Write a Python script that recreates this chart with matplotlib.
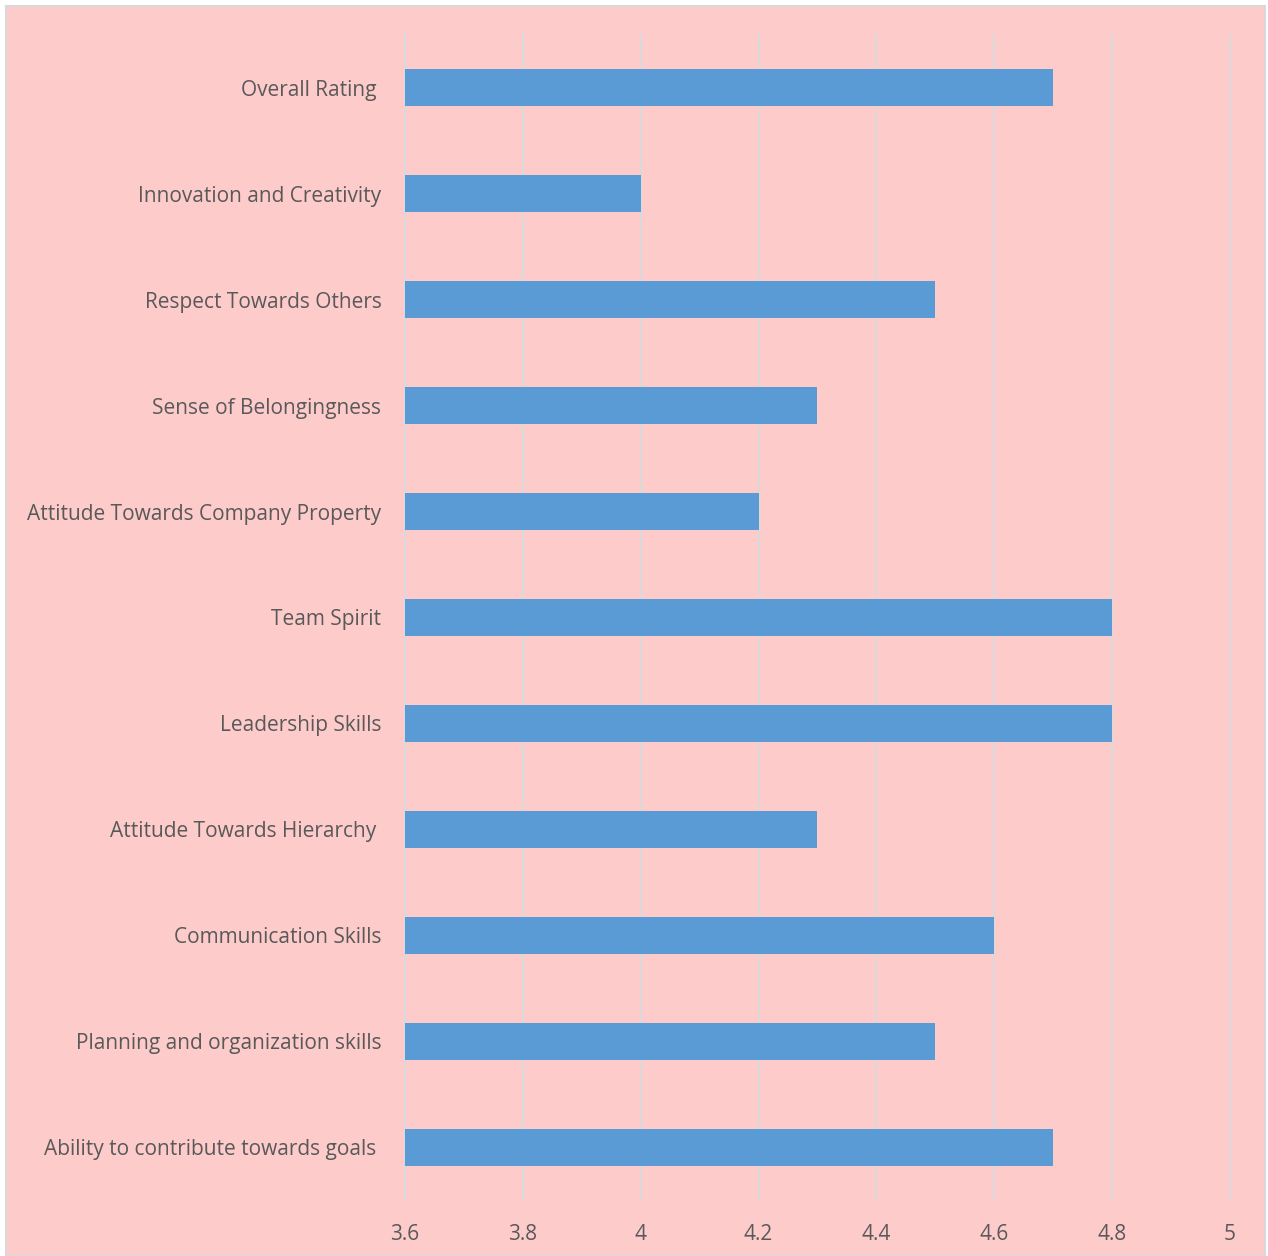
import matplotlib.pyplot as plt
from matplotlib.patches import Rectangle

# categories listed bottom to top
categories = [
    "Ability to contribute towards goals ",
    "Planning and organization skills",
    "Communication Skills",
    "Attitude Towards Hierarchy ",
    "Leadership Skills",
    "Team Spirit",
    "Attitude Towards Company Property",
    "Sense of Belongingness",
    "Respect Towards Others",
    "Innovation and Creativity",
    "Overall Rating ",
]
scores = [4.7, 4.5, 4.6, 4.3, 4.8, 4.8, 4.2, 4.3, 4.5, 4.0, 4.7]
xticks = [3.6, 3.8, 4.0, 4.2, 4.4, 4.6, 4.8, 5.0]
xticklabels = ["3.6", "3.8", "4", "4.2", "4.4", "4.6", "4.8", "5"]

plt.rcParams["font.family"] = ["Open Sans", "DejaVu Sans"]
pink = "#FECBCB"
txt = "#595959"

fig = plt.figure(figsize=(12.68, 12.56), dpi=100)
fig.patch.set_facecolor("white")
# chart area background with thin gray border
fig.patches.append(Rectangle((6 / 1268, 0), 1259 / 1268, 1 - 6 / 1256,
                             transform=fig.transFigure, facecolor=pink,
                             edgecolor="#D9D9D9", linewidth=1.5, zorder=-10))

ax = fig.add_axes([405 / 1268, 1 - 1200 / 1256, 825 / 1268, 1165 / 1256])
ax.set_facecolor("none")

base = 3.6
ax.barh(range(len(categories)), [s - base for s in scores], left=base,
        height=0.35, color="#5B9BD5", zorder=2)

ax.set_xlim(3.6, 5.0)
ax.set_ylim(-0.5, len(categories) - 0.5)
ax.set_xticks(xticks)
ax.set_xticklabels(xticklabels)
ax.set_yticks(range(len(categories)))
ax.set_yticklabels(categories)

for x in xticks:
    ax.axvline(x, color="#D9D9D9", linewidth=1.5, zorder=1, clip_on=False)

for s in ax.spines.values():
    s.set_visible(False)
ax.tick_params(axis="x", length=0, pad=17, labelsize=15, labelcolor=txt)
ax.tick_params(axis="y", length=0, pad=17, labelsize=15, labelcolor=txt)

fig.savefig("out.png", dpi=100, facecolor=fig.get_facecolor())
